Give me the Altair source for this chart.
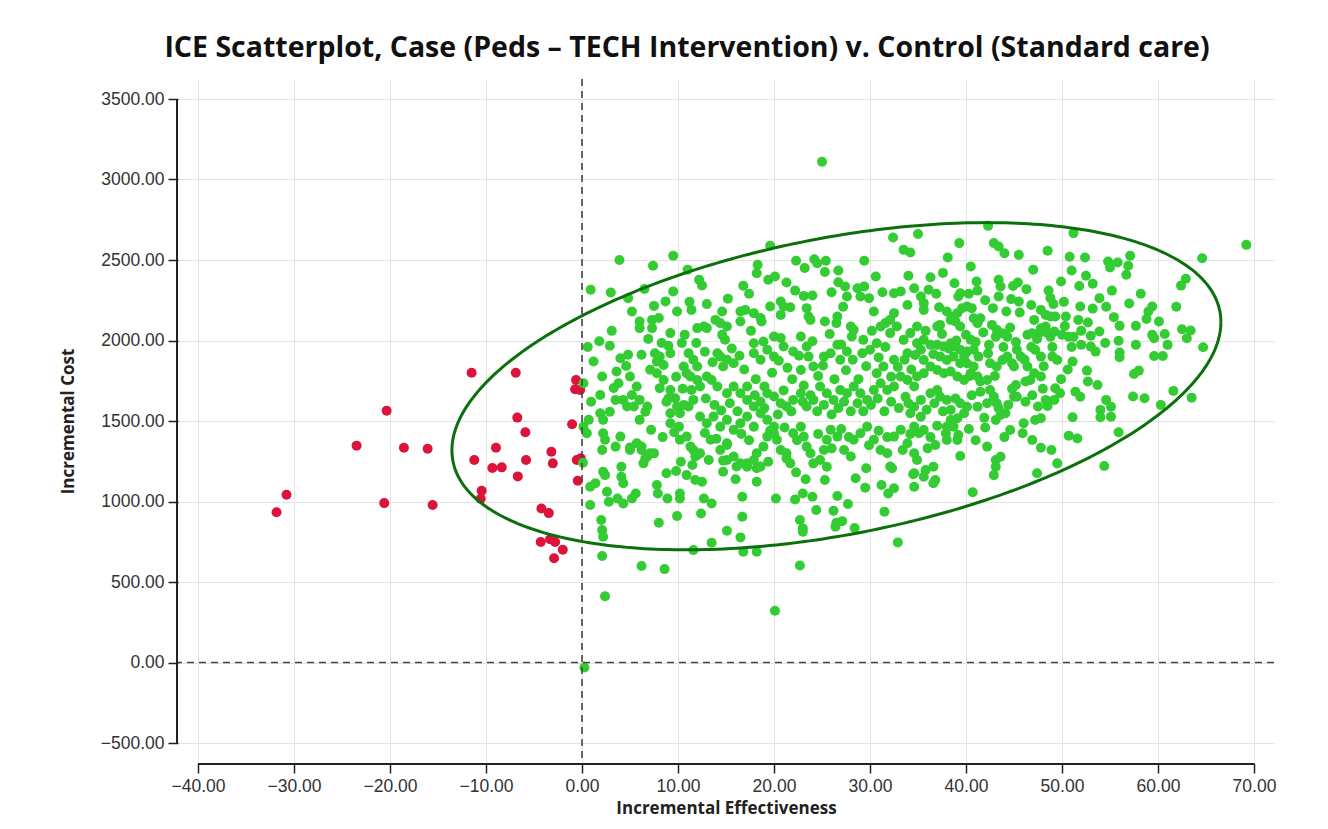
import altair as alt
import numpy as np
import pandas as pd

chart_title = "ICE Scatterplot, Case (Peds \u2013 TECH Intervention) v. Control (Standard care)"
x_title = "Incremental Effectiveness"
y_title = "Incremental Cost"
x_ticks = [-40, -30, -20, -10, 0, 10, 20, 30, 40, 50, 60, 70]
y_ticks = [-500, 0, 500, 1000, 1500, 2000, 2500, 3000, 3500]
ref_lines = [0]

# simulations with negative incremental effectiveness (red)
red_pts = [
    (-11.5, 1800), (-6.9, 1800), (-20.35, 1564), (-0.62, 1755), (-0.72, 1697), (-0.2, 1693),
    (-6.74, 1521), (-1.03, 1480), (-5.9, 1430), (-23.48, 1347), (-18.55, 1334), (-16.08, 1328),
    (-8.96, 1334), (-3.19, 1309), (-11.22, 1258), (-5.83, 1258), (-3.04, 1237), (-0.54, 1258),
    (-0.13, 1268), (-9.34, 1208), (-8.36, 1212), (-6.69, 1156), (-0.44, 1129), (-30.78, 1042),
    (-10.45, 1067), (-10.55, 1017), (-20.6, 990), (-15.56, 978), (-31.82, 933), (-4.23, 957),
    (-3.46, 928), (-4.3, 748), (-3.33, 765), (-2.8, 748), (-2.0, 700), (-2.91, 647),
]

# simulations with positive incremental effectiveness (green)
green_pts = [
    (0.9, 2315), (3.0, 2298), (4.8, 2263), (7.4, 2464), (9.5, 2526), (12.2, 2377), (12.5, 2342),
    (9.5, 2305), (8.7, 2243), (7.5, 2215), (9.9, 2180), (11.4, 2190), (13.0, 2226), (14.6, 2180),
    (16.8, 2340), (18.3, 2470), (18.2, 2418), (19.6, 2588), (19.4, 2377), (20.1, 2398), (22.3, 2495),
    (23.2, 2450), (24.2, 2505), (24.5, 2480), (25.4, 2495), (25.3, 2425), (26.7, 2435), (29.4, 2495),
    (26.7, 2362), (27.4, 2336), (27.6, 2273), (28.7, 2325), (29.4, 2336), (29.0, 2273), (29.9, 2263),
    (30.6, 2398), (32.4, 2640), (33.5, 2563), (34.2, 2547), (34.0, 2402), (32.5, 2294), (33.2, 2305),
    (34.6, 2325), (20.7, 2242), (21.0, 2211), (21.7, 2207), (22.2, 2310), (23.1, 2277), (23.4, 2201),
    (23.6, 2149), (23.8, 2128), (25.3, 2118), (26.6, 2149), (26.5, 2108), (16.5, 2180), (17.0, 2190),
    (17.9, 2170), (18.6, 2139), (18.7, 2118), (16.5, 2118), (19.6, 2211), (20.7, 2159), (6.0, 2118),
    (6.0, 2077), (7.3, 2128), (7.3, 2077), (9.2, 2046), (12.0, 2077), (12.7, 2087), (13.0, 2077),
    (13.9, 2128), (14.4, 2108), (15.1, 2087), (14.6, 2035), (28.0, 2087), (28.3, 2066), (31.1, 2087),
    (31.6, 2108), (32.8, 2087), (32.5, 2170), (32.1, 2128),
    (0.6, 1960), (1.8, 1995), (2.9, 1967), (10.7, 2035), (10.4, 1985), (4.0, 1890), (4.8, 1911),
    (6.2, 1911), (7.6, 1921), (8.1, 1900), (7.8, 1869), (8.5, 1848), (9.0, 1967), (9.2, 1921),
    (11.1, 1921), (11.6, 1880), (12.0, 1838), (10.6, 1838), (10.9, 1797), (14.1, 1921), (14.4, 1900),
    (15.1, 1880), (15.8, 1859), (14.7, 1838), (17.9, 1983), (18.9, 1994), (19.3, 1942), (20.0, 1900),
    (17.9, 1921), (18.6, 1880), (20.0, 2025), (20.7, 2015), (21.0, 1963), (22.0, 1932), (22.8, 2025),
    (23.4, 1963), (23.6, 1900), (24.1, 1838), (22.8, 1817), (25.2, 1900), (25.9, 1921), (26.6, 1973),
    (26.9, 1880), (27.6, 1932), (28.1, 2025), (29.3, 2004), (29.2, 1921), (30.0, 1942), (30.7, 1983),
    (32.1, 2046), (33.5, 2004), (34.2, 2046), (34.9, 1983), (33.9, 1921), (32.5, 1880), (31.4, 1838),
    (30.7, 1797),
    (0.15, 1735), (0.95, 1620), (1.9, 1662), (2.1, 1776), (1.9, 1548), (2.2, 1507), (2.9, 1558),
    (3.6, 1807), (3.8, 1735), (5.0, 1776), (5.7, 1714), (5.2, 1662), (6.0, 1631), (6.8, 1590),
    (6.6, 1558), (6.0, 1507), (3.5, 1631), (4.3, 1631), (4.7, 1590), (5.4, 1590), (7.1, 1818),
    (7.8, 1797), (8.5, 1755), (8.1, 1704), (9.2, 1693), (8.8, 1620), (9.7, 1641), (9.9, 1590),
    (9.2, 1548), (10.2, 1548), (11.1, 1590), (11.3, 1776), (12.0, 1755), (12.3, 1714), (13.0, 1776),
    (13.5, 1755), (14.1, 1714), (15.1, 1672), (15.8, 1714), (16.5, 1672), (17.2, 1714), (17.2, 1631),
    (17.9, 1590), (18.6, 1620), (19.3, 1672), (20.0, 1652), (20.7, 1610), (21.3, 1590), (22.0, 1631),
    (22.8, 1672), (23.4, 1590), (24.1, 1631), (24.8, 1714), (25.5, 1672), (26.2, 1631), (26.9, 1693),
    (27.6, 1672), (28.3, 1714), (29.0, 1672), (29.7, 1631), (30.4, 1693), (31.1, 1735), (31.8, 1693),
    (32.5, 1714), (33.2, 1776), (33.9, 1755), (34.6, 1714), (11.4, 1693), (11.6, 1631), (12.3, 1528),
    (13.0, 1486), (13.7, 1528), (14.4, 1465), (15.1, 1507), (15.8, 1445), (16.5, 1486), (17.2, 1528),
    (17.9, 1465), (18.6, 1548), (19.3, 1507), (20.0, 1465),
    (0.15, 1465), (0.5, 1424), (0.7, 1507), (2.2, 1424), (2.4, 1383), (2.1, 1320), (3.5, 1341),
    (4.0, 1403), (5.0, 1320), (5.7, 1362), (6.2, 1320), (6.8, 1279), (7.1, 1300), (6.4, 1237),
    (9.2, 1486), (10.1, 1465), (10.2, 1383), (10.9, 1403), (11.3, 1341), (11.8, 1279), (11.6, 1320),
    (12.3, 1300), (13.4, 1383), (14.4, 1320), (15.1, 1362), (15.1, 1258), (15.8, 1279), (16.1, 1217),
    (17.2, 1237), (17.9, 1258), (18.2, 1300), (18.6, 1217), (18.9, 1341), (19.3, 1403), (20.0, 1424),
    (20.3, 1383), (20.7, 1320), (21.3, 1300), (21.7, 1237), (22.0, 1424), (22.8, 1465), (23.1, 1403),
    (23.4, 1341), (23.8, 1300), (24.1, 1237), (24.8, 1258), (25.2, 1320), (25.5, 1383), (25.9, 1445),
    (26.6, 1403), (27.3, 1320), (28.0, 1279), (28.3, 1383), (29.0, 1424), (29.7, 1465), (30.4, 1383),
    (31.1, 1320), (31.8, 1300), (32.1, 1217), (32.5, 1403), (33.2, 1445), (33.9, 1362), (34.6, 1300),
    (0.1, 1241), (0.85, 1092), (1.4, 1113), (0.85, 978), (2.2, 1185), (2.4, 1164), (2.6, 1061),
    (2.8, 999), (2.0, 885), (2.1, 823), (2.2, 781), (2.1, 661), (2.4, 412), (3.7, 1019), (4.1, 1216),
    (4.1, 1154), (4.3, 1113), (4.3, 988), (5.2, 1019), (5.6, 1050), (5.0, 1336), (6.2, 1341),
    (6.6, 1268), (7.5, 1299), (6.2, 599), (7.8, 1102), (7.9, 1050), (8.0, 868), (8.6, 580),
    (8.8, 1175), (8.9, 1019), (9.9, 910), (9.8, 1189), (10.2, 1050), (10.2, 1019), (10.3, 1247),
    (10.9, 1164), (11.5, 1227), (11.6, 698), (11.8, 1133), (12.5, 1123), (12.0, 1289), (12.4, 926),
    (12.7, 1019), (13.2, 1258), (13.5, 988), (13.5, 744), (14.7, 1254), (14.7, 1185), (15.1, 818),
    (15.1, 1351), (16.0, 1138), (16.5, 1237), (16.7, 1030), (16.7, 906), (16.5, 777), (16.8, 688),
    (17.2, 1216), (18.2, 1123), (18.2, 1206), (18.2, 688), (19.4, 1247), (20.2, 1019), (20.1, 321),
    (21.3, 1268), (22.3, 1181), (22.2, 1013), (23.0, 1050), (22.7, 885), (23.0, 833), (23.0, 812),
    (22.7, 603), (23.3, 1138), (24.0, 1030), (24.4, 947), (25.3, 1133), (25.5, 1216), (26.2, 943),
    (26.6, 1034), (26.5, 868), (27.1, 878), (26.4, 843), (27.7, 984), (28.5, 1144), (28.4, 835),
    (29.5, 1086), (29.6, 1206), (31.2, 1102), (31.5, 937), (31.9, 1050), (32.3, 1206), (32.5, 1082),
    (32.9, 746), (34.5, 1169), (34.6, 1092), (34.9, 1258), (0.25, -31),
    (35.0, 2661), (42.3, 2712), (39.3, 2605), (38.1, 2516), (42.9, 2605), (43.4, 2584), (44.0, 2542),
    (45.5, 2532), (48.5, 2557), (51.2, 2667), (52.4, 2516), (54.8, 2491), (55.8, 2485), (55.0, 2453),
    (57.1, 2526), (56.9, 2464), (56.7, 2408), (64.6, 2511), (62.9, 2383), (62.4, 2341), (51.0, 2435),
    (52.5, 2402), (53.2, 2352), (51.8, 2339), (49.9, 2366), (48.6, 2310), (48.8, 2263), (49.1, 2226),
    (53.9, 2263), (51.9, 2211), (53.2, 2198), (50.4, 2149), (51.7, 2128), (52.7, 2112), (55.4, 2145),
    (56.0, 2091), (59.0, 2180), (59.4, 2211), (58.8, 2134), (60.1, 2118), (57.7, 2091), (53.9, 2056),
    (55.9, 1999), (57.7, 1973), (52.0, 1973), (53.0, 1962), (53.5, 1931), (56.0, 1925), (56.0, 1896),
    (59.4, 2035), (59.6, 2014), (61.0, 1973), (62.5, 2070), (63.4, 2062), (63.0, 2014), (64.7, 1958),
    (59.6, 1904), (60.5, 1904), (57.5, 1792), (58.0, 1813), (51.1, 1869), (52.6, 1813), (52.7, 1745),
    (53.7, 1724), (51.4, 1682), (51.9, 1651), (49.3, 1703), (49.8, 1672), (49.2, 1631), (48.3, 1631),
    (48.5, 1593), (57.4, 1652), (58.6, 1641), (61.6, 1687), (63.5, 1645), (60.3, 1600), (54.6, 1631),
    (55.1, 1589), (54.0, 1569), (54.0, 1523), (55.1, 1527), (51.1, 1523), (55.9, 1430), (50.7, 1409),
    (51.6, 1392), (47.8, 1334), (48.9, 1320), (49.5, 1237), (54.4, 1220),
    (36.3, 2393), (35.3, 2273), (35.6, 2232), (36.1, 2315), (38.8, 2356), (39.4, 2294), (39.2, 2273),
    (41.1, 2366), (41.2, 2310), (43.4, 2377), (43.6, 2335), (44.9, 2339), (45.4, 2360), (46.3, 2319),
    (43.4, 2273), (44.7, 2257), (45.5, 2242), (45.6, 2174), (42.8, 2201), (37.2, 2207), (35.6, 2190),
    (38.0, 2180), (38.6, 2149), (39.1, 2170), (39.6, 2201), (40.1, 2211), (40.6, 2201), (38.4, 2128),
    (38.9, 2118), (39.4, 2087), (37.3, 2097), (37.0, 2087), (40.8, 2138), (41.2, 2107), (41.5, 2138),
    (40.0, 2035), (40.5, 2004), (42.4, 1973), (42.7, 2097), (43.2, 2066), (43.8, 2045), (44.3, 2024),
    (43.1, 2024), (46.4, 2035), (46.9, 2045), (47.1, 2128), (47.8, 2190), (48.3, 2159), (48.8, 2149),
    (49.3, 2149), (47.8, 2076), (48.3, 2087), (48.5, 2045), (48.8, 2024), (49.2, 2056), (47.6, 2045),
    (50.0, 2035), (50.7, 2024), (51.2, 2024), (47.2, 1942), (47.8, 1900), (49.0, 1900), (49.5, 1879),
    (34.9, 2087), (35.6, 2004), (36.3, 1973), (35.3, 1942), (34.7, 1910), (37.0, 1973), (37.7, 1962),
    (38.4, 1983), (38.9, 1962), (39.4, 1942), (40.1, 1931), (40.8, 1942), (41.3, 1900), (37.3, 1900),
    (38.0, 1879), (38.7, 1900), (39.4, 1859), (40.1, 1859), (40.8, 1838), (35.6, 1879), (36.3, 1838),
    (37.0, 1817), (37.7, 1797), (38.4, 1807), (35.6, 1797), (34.9, 1776), (39.1, 1776), (39.8, 1755),
    (40.5, 1797), (41.2, 1776), (41.5, 1745), (42.2, 1755), (42.5, 1859), (43.2, 1838), (43.8, 1879),
    (44.3, 1900), (44.8, 1859), (45.3, 1942), (45.7, 1900), (45.0, 1838), (46.4, 1838), (47.1, 1797),
    (46.7, 1755), (47.8, 1776), (45.2, 1724), (46.2, 1745), (45.3, 1651), (46.2, 1620), (43.2, 1610),
    (43.4, 1579), (42.5, 1693), (41.5, 1682), (42.2, 1610), (41.2, 1589), (43.6, 1537), (43.1, 1506),
    (44.1, 1548), (39.4, 1610), (40.1, 1589), (39.8, 1548), (39.1, 1517), (38.4, 1569), (37.0, 1693),
    (37.3, 1651), (38.0, 1631), (36.3, 1672), (35.3, 1631), (34.6, 1589), (34.2, 1548), (38.4, 1506),
    (38.0, 1465), (37.9, 1424), (38.0, 1382), (38.7, 1465), (39.2, 1413), (39.1, 1382), (35.3, 1527),
    (35.6, 1444), (35.1, 1424), (34.6, 1465), (36.0, 1330), (42.2, 1341), (43.1, 1258), (43.6, 1278),
    (43.1, 1216), (42.9, 1164), (39.4, 1283), (36.8, 1351), (36.6, 1216), (35.8, 1195), (35.6, 1154),
    (34.6, 1175), (44.6, 1444), (46.0, 1486), (45.9, 1424), (46.9, 1382), (47.2, 1506), (47.8, 1517),
    (45.0, 1651), (47.4, 1175), (36.8, 1133), (36.6, 1113), (40.7, 1057), (69.2, 2594), (25.0, 3110),
    # dense core, estimated from the overlapping mass of dots
    (1.2, 1870), (3.3, 1705), (4.6, 1842), (6.9, 2010), (8.3, 1985), (9.8, 1775), (10.5, 1700),
    (11.9, 1985), (12.8, 1930), (13.6, 1865), (14.9, 2005), (15.6, 1950), (16.4, 1905), (16.9, 1820),
    (17.6, 2060), (18.1, 1760), (19.0, 1715), (19.8, 1800), (20.5, 1875), (21.4, 1830), (21.9, 1760),
    (22.6, 1905), (23.1, 1720), (24.0, 1995), (24.6, 1780), (25.1, 1845), (25.8, 2040), (26.3, 1760),
    (27.0, 1975), (27.5, 1815), (28.2, 1880), (28.8, 1760), (29.6, 1840), (30.2, 2060), (30.9, 1895),
    (31.6, 1960), (32.2, 1775), (32.9, 1835), (33.6, 1880), (34.3, 1820), (35.8, 2060), (36.6, 1915),
    (37.5, 2040), (38.2, 1950), (39.0, 2000), (39.8, 1900), (40.4, 1780), (41.0, 1990), (41.8, 2050),
    (42.3, 1920), (43.0, 1780), (43.9, 1960), (44.6, 2080), (45.2, 1990), (46.1, 1880), (46.8, 1960),
    (47.4, 2010), (48.1, 1840), (49.0, 1960), (50.3, 2090), (51.0, 1960), (52.0, 2060), (53.0, 2030),
    (54.5, 1985), (9.0, 1640), (10.6, 1600), (12.9, 1640), (13.8, 1600), (14.5, 1565), (15.4, 1610),
    (16.2, 1560), (18.0, 1660), (19.0, 1580), (20.4, 1540), (21.0, 1690), (21.8, 1560), (23.0, 1620),
    (23.8, 1660), (24.5, 1560), (25.2, 1600), (26.0, 1540), (26.7, 1580), (27.3, 1620), (28.0, 1560),
    (28.7, 1610), (29.3, 1560), (30.1, 1600), (30.8, 1640), (31.5, 1560), (32.2, 1620), (33.0, 1580),
    (33.7, 1650), (34.0, 1610), (35.9, 1570), (36.7, 1610), (37.6, 1560), (38.9, 1640), (40.6, 1660),
    (41.9, 1520), (42.9, 1650), (44.4, 1600), (44.8, 1700), (46.9, 1660), (47.5, 1590), (48.0, 1700),
    (49.9, 1760), (50.6, 1820), (7.2, 1445), (8.4, 1400), (9.6, 1430), (12.8, 1425), (14.0, 1390),
    (16.6, 1420), (17.4, 1380), (19.6, 1440), (21.1, 1460), (22.4, 1380), (24.6, 1420), (26.0, 1330),
    (27.0, 1450), (27.8, 1400), (29.9, 1350), (30.9, 1440), (31.8, 1400), (33.4, 1320), (34.2, 1420),
    (36.3, 1400), (37.0, 1470), (40.3, 1450), (41.0, 1380), (42.0, 1460), (44.0, 1400), (3.1, 2060),
    (5.2, 2180), (8.0, 2140), (11.2, 2240), (15.2, 2260), (17.4, 2290), (21.3, 2360), (24.0, 2280),
    (27.2, 2210), (30.4, 2180), (31.3, 2300), (33.9, 2220), (36.9, 2290), (40.3, 2290), (42.0, 2250),
    (44.2, 2180), (46.8, 2220), (50.2, 2240), (54.6, 2210), (57.0, 2230), (58.2, 2290), (60.7, 2040),
    (61.9, 2210), (55.2, 2310), (47.0, 2440), (50.8, 2520), (40.5, 2460), (37.6, 2420), (26.0, 2300),
    (11.0, 2440), (3.9, 2500), (6.5, 2320),
]

# confidence ellipse of the green cloud (centre, x half-extent, y shear, y half-axis)
ellipse_cx, ellipse_cy = 26.5, 1716
ellipse_ax, ellipse_by, ellipse_cy_sin = 40.05, 398, 935

RED = "#dc143c"
GREEN = "#33cc33"
DARK_GREEN = "#0b700b"

pts = pd.DataFrame(
    [{"x": x, "y": y, "g": "neg"} for x, y in red_pts]
    + [{"x": x, "y": y, "g": "pos"} for x, y in green_pts]
)

t = np.linspace(0, 2 * np.pi, 361)
ell = pd.DataFrame({
    "x": ellipse_cx + ellipse_ax * np.cos(t),
    "y": ellipse_cy + ellipse_by * np.cos(t) + ellipse_cy_sin * np.sin(t),
    "i": np.arange(len(t)),
})

W, H = 1096, 684
xs = alt.Scale(domain=[x_ticks[0], x_ticks[-1]], nice=False, zero=False, padding=20)
ys = alt.Scale(domain=[y_ticks[0], y_ticks[-1]], nice=False, zero=False, padding=20)

x_axis = alt.Axis(values=x_ticks, format=".2f", title=x_title, titleY=45, titleBaseline="middle")
y_axis = alt.Axis(values=y_ticks, format=".2f", title=y_title, titleX=-110, titleY=H / 2,
                  titleBaseline="middle", titleAngle=-90)

points = alt.Chart(pts).mark_circle(size=100, opacity=1).encode(
    x=alt.X("x:Q", scale=xs, axis=x_axis),
    y=alt.Y("y:Q", scale=ys, axis=y_axis),
    color=alt.Color("g:N", scale=alt.Scale(domain=["neg", "pos"], range=[RED, GREEN]), legend=None),
)

ref_df = pd.DataFrame({"v": ref_lines})
vline = alt.Chart(ref_df).mark_rule(color="#444", strokeWidth=1.6, strokeDash=[7, 5]).encode(
    x=alt.X("v:Q", scale=xs, axis=x_axis)
)
hline = alt.Chart(ref_df).mark_rule(color="#444", strokeWidth=1.6, strokeDash=[7, 5]).encode(
    y=alt.Y("v:Q", scale=ys, axis=y_axis)
)

ellipse = alt.Chart(ell).mark_line(color=DARK_GREEN, strokeWidth=3).encode(
    x=alt.X("x:Q", scale=xs, axis=x_axis),
    y=alt.Y("y:Q", scale=ys, axis=y_axis),
    order="i:Q",
)

axis_df = pd.DataFrame({"x0": [x_ticks[0]], "x1": [x_ticks[-1]], "y0": [y_ticks[0]], "y1": [y_ticks[-1]]})
x_domain = alt.Chart(axis_df).mark_rule(color="#222", strokeWidth=2).encode(
    x=alt.X("x0:Q", scale=xs, axis=x_axis), x2="x1:Q", y=alt.value(H + 1)
)
y_domain = alt.Chart(axis_df).mark_rule(color="#222", strokeWidth=2).encode(
    y=alt.Y("y0:Q", scale=ys, axis=y_axis), y2="y1:Q", x=alt.value(-1)
)

chart = alt.layer(points, vline, hline, ellipse, x_domain, y_domain).properties(
    width=W,
    height=H,
    title=alt.TitleParams(chart_title, font="Open Sans", fontSize=28.5, fontWeight="bold",
                          color="#111", anchor="middle", dx=-39, offset=16),
    autosize=alt.AutoSizeParams(type="none"),
    padding={"left": 170, "top": 71, "right": 46, "bottom": 58},
).configure_view(stroke=None).configure_axis(
    domain=False,
    grid=True,
    gridColor="#e3e3e3",
    gridWidth=1,
    tickColor="#222",
    tickWidth=1.5,
    tickSize=10,
    labelFont="Liberation Sans",
    labelFontSize=17.5,
    labelColor="#333",
    labelPadding=4,
    titleFont="Open Sans",
    titleFontSize=17,
    titleFontWeight="bold",
    titleColor="#222",
)

chart.save("out.html", embed_options={"renderer": "svg", "actions": False})
